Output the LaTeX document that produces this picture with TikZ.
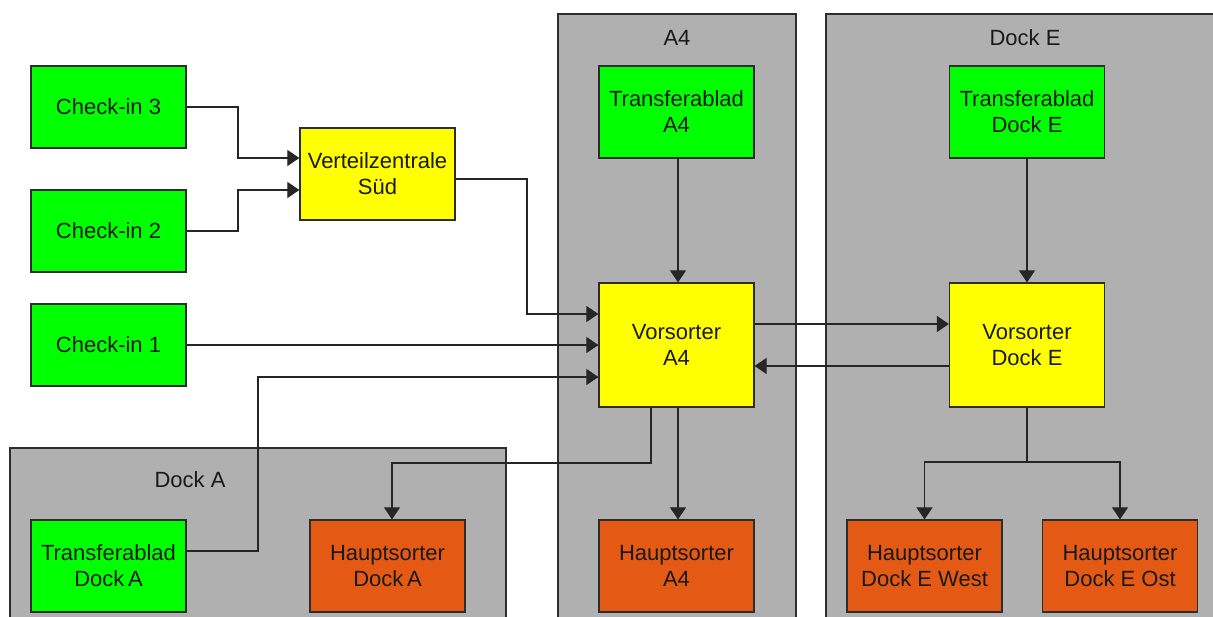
\documentclass[tikz,border=0pt]{standalone}
\usepackage{fontspec}
\setmainfont{Liberation Sans}
\usetikzlibrary{arrows.meta}
\definecolor{boxgreen}{RGB}{0,255,0}
\definecolor{boxyellow}{RGB}{255,255,0}
\definecolor{boxorange}{RGB}{228,90,20}
\definecolor{contgray}{RGB}{176,176,176}
\definecolor{edgegray}{RGB}{45,45,45}
\tikzset{
  box/.style={draw=edgegray, line width=1.2pt, minimum width=155pt, inner sep=0pt, align=center,
    font=\fontsize{22}{26}\selectfont, text=black!90},
  gbox/.style={box, fill=boxgreen, minimum height=82pt},
  gboxt/.style={box, fill=boxgreen, minimum height=92pt},
  ybox/.style={box, fill=boxyellow},
  obox/.style={box, fill=boxorange, minimum height=92pt},
  cont/.style={draw=edgegray, line width=1.2pt, fill=contgray},
  clabel/.style={font=\fontsize{22}{26}\selectfont, text=black!90, inner sep=0pt},
  arr/.style={draw=black!85, line width=1.1pt, -{Triangle[length=12pt,width=16pt]}},
  ln/.style={draw=black!85, line width=1.1pt},
}
\begin{document}
\begin{tikzpicture}[x=1pt,y=-1pt]
\useasboundingbox (0,0) rectangle (1213,617);
\fill[white] (0,0) rectangle (1213,617);
% containers
\draw[cont] (558,14) rectangle (796,625);
\draw[cont] (826,14) rectangle (1217,625);
\draw[cont] (10,448) rectangle (506,625);
\node[clabel] (lA4) at (677,38) {A4};
\node[clabel] (lE) at (1025,38) {Dock E};
\node[clabel] (lA) at (190,480) {Dock A};
% boxes
\node[gbox] (ci3) at (108.5,107) {Check-in 3};
\node[gbox] (ci2) at (108.5,231) {Check-in 2};
\node[gbox] (ci1) at (108.5,345) {Check-in 1};
\node[ybox, minimum height=92pt] (vz) at (377.5,174) {Verteilzentrale\\Süd};
\node[gboxt] (ta4) at (676.5,112) {Transferablad\\A4};
\node[ybox, minimum height=124pt] (va4) at (676.5,345) {Vorsorter\\A4};
\node[gboxt] (tde) at (1027,112) {Transferablad\\Dock E};
\node[ybox, minimum height=124pt] (vde) at (1027,345) {Vorsorter\\Dock E};
\node[obox] (ha4) at (676.5,566) {Hauptsorter\\A4};
\node[obox] (hda) at (387.5,566) {Hauptsorter\\Dock\,A};
\node[gboxt] (tda) at (108.5,566) {Transferablad\\Dock\,A};
\node[obox] (hew) at (924.5,566) {Hauptsorter\\Dock E West};
\node[obox] (heo) at (1120,566) {Hauptsorter\\Dock E Ost};
% connectors
\draw[arr] (ci3.east) -- (238,107) |- (vz.west |- 0,158);
\draw[arr] (ci2.east) -- (238,231) |- (vz.west |- 0,190);
\draw[arr] (vz.east |- 0,179) -- (527,179) |- (va4.west |- 0,314);
\draw[arr] (ci1.east) -- (va4.west |- 0,345);
\draw[arr] (tda.east |- 0,551) -- (258,551) |- (va4.west |- 0,377);
\draw[arr] (ta4.south -| 678,0) -- (va4.north -| 678,0);
\draw[arr] (tde.south) -- (vde.north);
\draw[arr] (va4.east |- 0,324) -- (vde.west |- 0,324);
\draw[arr] (vde.west |- 0,366) -- (va4.east |- 0,366);
\draw[arr] (va4.south -| 678,0) -- (ha4.north -| 678,0);
\draw[arr] (va4.south -| 651,0) -- (651,463) -| (hda.north -| 392,0);
\coordinate (split) at (1027,462);
\draw[ln] (vde.south) -- (split);
\draw[arr] (split) -| (hew.north);
\draw[arr] (split) -| (heo.north);
\end{tikzpicture}
\end{document}
